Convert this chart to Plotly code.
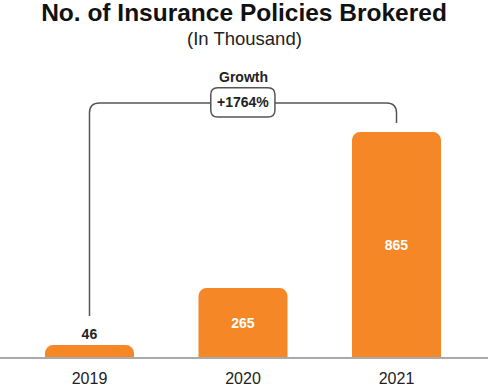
import plotly.graph_objects as go

years = ["2019", "2020", "2021"]
policies = [46, 265, 865]
growth_label = "+1764%"
title_text = "No. of Insurance Policies Brokered"
subtitle_text = "(In Thousand)"

ORANGE = "#F58726"
FONT = "Liberation Sans, Arial, sans-serif"

fig = go.Figure()
fig.add_trace(go.Bar(
    x=[0, 1, 2],
    y=policies,
    width=0.58,
    marker=dict(color=ORANGE, cornerradius=8, line=dict(width=0)),
    text=[f"<b>{v}</b>" for v in policies],
    textposition=["outside", "inside", "inside"],
    insidetextanchor="middle",
    insidetextfont=dict(color="white", size=14, family=FONT),
    outsidetextfont=dict(color="#222222", size=14, family=FONT),
    cliponaxis=False,
    hoverinfo="skip",
))

# Growth bracket (data coordinates)
x0, x1 = 0, 2
ytop = 977
yl = 158
yr = 900
rx, ry = 0.065, 38
path = (f"M {x0},{yl} L {x0},{ytop-ry} Q {x0},{ytop} {x0+rx},{ytop} "
        f"L {x1-rx},{ytop} Q {x1},{ytop} {x1},{ytop-ry} L {x1},{yr}")
fig.add_shape(type="path", path=path, xref="x", yref="y",
              line=dict(color="#555555", width=1.5))

bx0, bx1, by0, by1 = 0.79, 1.208, 923, 1035
brx, bry = 0.045, 27
box = (f"M {bx0+brx},{by0} L {bx1-brx},{by0} Q {bx1},{by0} {bx1},{by0+bry} "
       f"L {bx1},{by1-bry} Q {bx1},{by1} {bx1-brx},{by1} "
       f"L {bx0+brx},{by1} Q {bx0},{by1} {bx0},{by1-bry} "
       f"L {bx0},{by0+bry} Q {bx0},{by0} {bx0+brx},{by0} Z")
fig.add_shape(type="path", path=box, xref="x", yref="y",
              fillcolor="white", line=dict(color="#555555", width=1.5))

fig.add_annotation(x=1, y=(by0+by1)/2, xref="x", yref="y",
                   text=f"<b>{growth_label}</b>", showarrow=False,
                   font=dict(size=14, color="#222222", family=FONT))
fig.add_annotation(x=1, y=1077, xref="x", yref="y",
                   text="<b>Growth</b>", showarrow=False,
                   font=dict(size=14, color="#222222", family=FONT))

fig.add_annotation(x=0.5, y=1 + (60 - 38) / 297, xref="paper", yref="paper",
                   text=subtitle_text, showarrow=False, yanchor="middle",
                   font=dict(size=18.5, color="#222222", family=FONT))

fig.update_layout(
    width=488, height=388,
    margin=dict(l=0, r=0, t=60, b=31),
    paper_bgcolor="white", plot_bgcolor="white",
    showlegend=False,
    title=dict(text=f"<b>{title_text}</b>", x=0.5, xanchor="center",
               y=1 - 12.5 / 388, yanchor="middle",
               font=dict(size=24.5, color="#111111", family=FONT)),
    xaxis=dict(range=[-0.583, 2.596], tickvals=[0, 1, 2], ticktext=years,
               showgrid=False, zeroline=False, showline=True,
               linecolor="#AAAAAA", linewidth=2, ticks="",
               ticklabelstandoff=6,
               tickfont=dict(size=16, color="#222222", family=FONT),
               fixedrange=True),
    yaxis=dict(range=[0, 1142], visible=False, showgrid=False,
               zeroline=False, fixedrange=True),
)

fig.write_html("out.html", config={"displayModeBar": False},
               post_script="document.body.style.margin='0';document.body.style.overflow='hidden';")
